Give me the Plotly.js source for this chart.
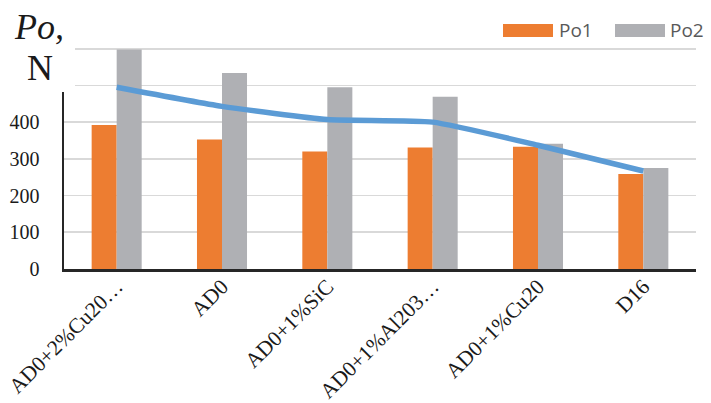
<!DOCTYPE html>
<html>
<head>
<meta charset="utf-8">
<script src="https://cdn.plot.ly/plotly-3.0.1.min.js"></script>
<style>html,body{margin:0;padding:0;background:#fff;}#chart{width:711px;height:403px;}</style>
</head>
<body>
<div id="chart"></div>
<script>
var categories = ["AD0+2%Cu20…", "AD0", "AD0+1%SiC", "AD0+1%Al203…", "AD0+1%Cu20", "D16"];
var po1 = [392, 353, 320, 331, 333, 259];
var po2 = [598, 534, 495, 469, 341, 275];
var poAvg = [495, 443, 407, 400, 337, 267];
var yTicks = [0, 100, 200, 300, 400, 500, 600, 700];
var yTickText = ["0", "100", "200", "300", "400", "", "", ""];

var orange = "#ED7D31", gray = "#AFB0B4", blue = "#5B9BD5";
var serif = "Liberation Serif, Times New Roman, serif";
var sans = "Open Sans, Noto Sans, sans-serif";

var traces = [
  {type: "bar", name: "Po1", x: categories, y: po1, marker: {color: orange}, showlegend: false},
  {type: "bar", name: "Po2", x: categories, y: po2, marker: {color: gray}, showlegend: false},
  {type: "scatter", mode: "lines", name: "Po", x: categories, y: poAvg,
   line: {color: blue, width: 5.5, shape: "spline", smoothing: 0.5}, showlegend: false}
];

var L = 64, R = 15, T = 12, B = 134, W = 711, H = 403;
var pw = W - L - R, ph = H - T - B;
function px(x) { return (x - L) / pw; }
function py(y) { return (H - B - y) / ph; }

var layout = {
  width: W, height: H,
  margin: {l: L, r: R, t: T, b: B, pad: 0},
  paper_bgcolor: "#fff", plot_bgcolor: "#fff",
  barmode: "group", bargap: 0.525, bargroupgap: 0,
  showlegend: false,
  xaxis: {
    type: "category", tickangle: -45, showgrid: false,
    showline: true, linecolor: "#262626", linewidth: 2.5,
    ticks: "", tickfont: {family: serif, size: 21.5, color: "#1a1a1a"},
    ticklabelstandoff: -6, ticklabelshift: 0
  },
  yaxis: {
    range: [0, 700], tickvals: yTicks, ticktext: yTickText,
    showgrid: true, gridcolor: "#D9D9D9", gridwidth: 1.8,
    zeroline: false, showline: true, linecolor: "#262626", linewidth: 2.5,
    ticks: "", tickfont: {family: serif, size: 20, color: "#1a1a1a"},
    ticklabelstandoff: 18
  },
  shapes: [
    {type: "rect", xref: "paper", yref: "paper", x0: px(0), x1: px(75), y0: py(92), y1: py(0),
     fillcolor: "#fff", line: {width: 0}, layer: "above"},
    {type: "rect", xref: "paper", yref: "paper", x0: px(503), x1: px(553), y0: py(37), y1: py(24),
     fillcolor: orange, line: {width: 0}, layer: "above"},
    {type: "rect", xref: "paper", yref: "paper", x0: px(615), x1: px(665), y0: py(37), y1: py(24),
     fillcolor: gray, line: {width: 0}, layer: "above"}
  ],
  annotations: [
    {xref: "paper", yref: "paper", x: px(39), y: py(27), text: "<i>Po,</i>", showarrow: false,
     xanchor: "center", yanchor: "middle", font: {family: serif, size: 36, color: "#1a1a1a"}},
    {xref: "paper", yref: "paper", x: px(40), y: py(68), text: "N", showarrow: false,
     xanchor: "center", yanchor: "middle", font: {family: serif, size: 36, color: "#1a1a1a"}},
    {xref: "paper", yref: "paper", x: px(557), y: py(30.5), text: "Po1", showarrow: false,
     xanchor: "left", yanchor: "middle", font: {family: sans, size: 19, color: "#595959"}},
    {xref: "paper", yref: "paper", x: px(668), y: py(30.5), text: "Po2", showarrow: false,
     xanchor: "left", yanchor: "middle", font: {family: sans, size: 19, color: "#595959"}}
  ]
};

Plotly.newPlot("chart", traces, layout, {displayModeBar: false, staticPlot: true});
</script>
</body>
</html>
